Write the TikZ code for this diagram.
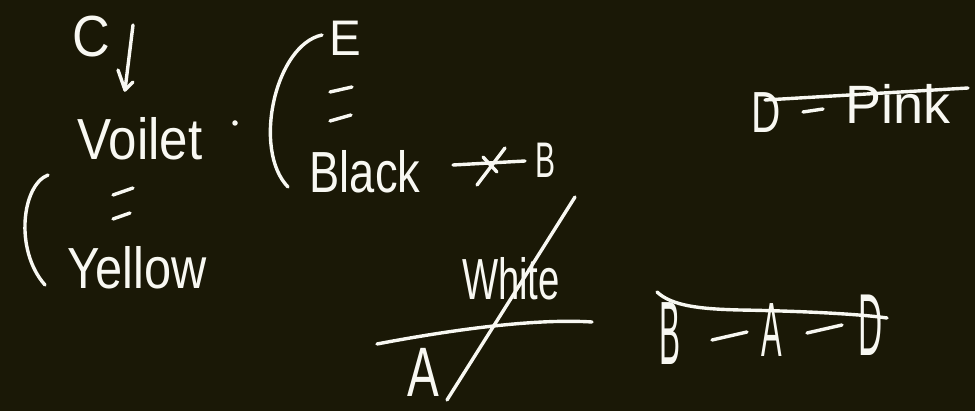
\documentclass[tikz,border=0pt]{standalone}
\usepackage{fontspec}
\setmainfont{Liberation Sans}
\definecolor{bg}{RGB}{26,24,6}
\definecolor{ink}{RGB}{248,248,242}
\tikzset{
  hand/.style={draw=ink, line width=3.4pt, line cap=round, line join=round},
  txt/.style={text=ink, inner sep=0pt},
}
\newcommand{\hw}[3]{\fontsize{#1}{#1}\selectfont\scalebox{#2}[1]{#3}}
\begin{document}
\begin{tikzpicture}[x=1pt,y=-1pt]
\fill[bg] (0,0) rectangle (975,411);
\useasboundingbox (0,0) rectangle (975,411);

% left column
\node[txt] (C) at (91,37) {\hw{58}{0.9}{C}};
\coordinate (arrS) at (133,25);
\coordinate (arrE) at (125,90);
\draw[hand] (arrS) -- (arrE);
\draw[hand] (118,70) -- (arrE) -- (133,82);
\node[txt] (voilet) at (140,139) {\hw{58}{0.88}{Voilet}};
\node[circle, fill=ink, inner sep=0pt, minimum size=5.5pt] (dot) at (235,123) {};
\draw[hand] (113,195) -- (133,188);
\draw[hand] (113,219) -- (130,213);
\draw[hand] (48,175) .. controls (22,185) and (14,250) .. (45,285);
\node[txt] (yellow) at (137,268) {\hw{58}{0.84}{Yellow}};

% middle column
\draw[hand] (322,35) .. controls (275,45) and (252,150) .. (288,187);
\node[txt] (E) at (345,38) {\hw{50}{0.95}{E}};
\draw[hand] (330,92) -- (352,87);
\draw[hand] (330,121) -- (351,115);
\node[txt] (black) at (365,172) {\hw{58}{0.78}{Black}};
\coordinate (xs) at (453,165);
\node[txt] (B1) at (545,160) {\hw{50}{0.6}{B}};
\draw[hand] (xs) -- (525,161);
\draw[hand] (477,185) -- (505,148);
\draw[hand] (483,157) -- (497,172);

% D = Pink
\node[txt] (D1) at (766,113) {\hw{58}{0.7}{D}};
\draw[hand] (803,112) -- (823,109);
\node[txt] (pink) at (898,104) {\hw{54}{1}{Pink}};
\draw[hand] (765,100) -- (968,88);

% White / A
\node[txt] (white) at (511,279) {\hw{58}{0.66}{White}};
\draw[hand] (575,197) -- (447,400);
\draw[hand] (377,344) .. controls (440,332) and (530,318) .. (592,322);
\node[txt] (A1) at (423,372) {\hw{70}{0.68}{A}};

% B - A - D
\node[txt] (B2) at (670,334) {\hw{90}{0.35}{B}};
\node[txt] (A2) at (772,330) {\hw{77}{0.4}{A}};
\node[txt] (D2) at (871,325) {\hw{88}{0.38}{D}};
\draw[hand] (712,340) -- (747,332);
\draw[hand] (807,333) -- (842,325);
\draw[hand] (657,292) .. controls (672,306) and (700,309) .. (740,310) .. controls (800,311) and (860,314) .. (887,318);
\end{tikzpicture}
\end{document}
